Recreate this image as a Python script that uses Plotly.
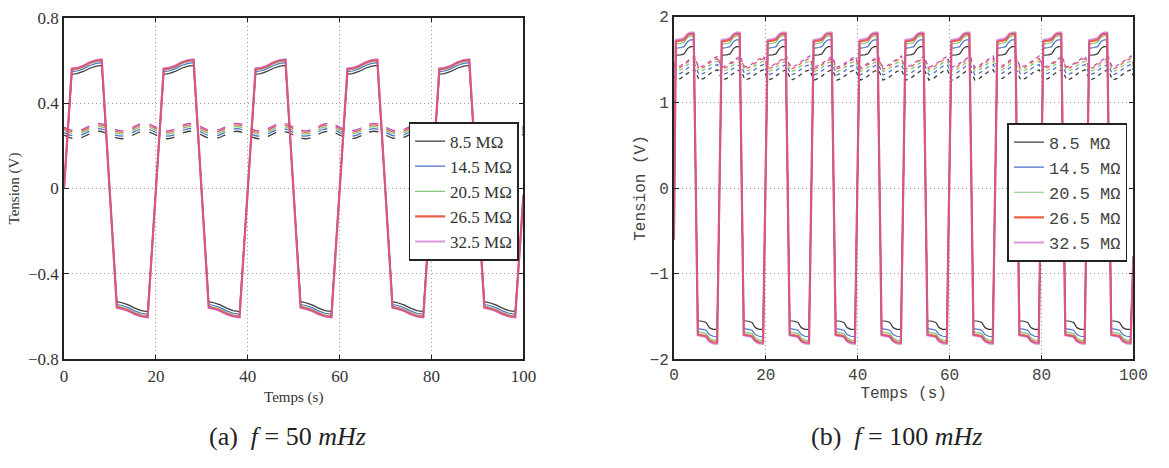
import plotly.graph_objects as go

# ---------------- data ----------------
series_names = ["8.5 MΩ", "14.5 MΩ", "20.5 MΩ", "26.5 MΩ", "32.5 MΩ"]
series_colors = ["#3a3a3a", "#4a72c8", "#80c878", "#ee6048", "#c050c0"]

# (a) f = 50 mHz : one period (20 s) of the solid curves
a_period = 20.0
a_n_periods = 5
a_t_high = [1.7, 2.8, 4.2, 5.6, 7.0, 8.2]
a_t_low = [11.5, 12.6, 14.0, 15.4, 16.8, 18.2]
a_high = [
    [0.535, 0.538, 0.548, 0.563, 0.573, 0.576],
    [0.547, 0.550, 0.560, 0.576, 0.586, 0.589],
    [0.554, 0.557, 0.567, 0.584, 0.594, 0.597],
    [0.559, 0.562, 0.572, 0.589, 0.599, 0.602],
    [0.562, 0.565, 0.575, 0.592, 0.602, 0.605],
]
a_low = [
    [-0.530, -0.535, -0.545, -0.560, -0.572, -0.576],
    [-0.543, -0.548, -0.558, -0.573, -0.584, -0.588],
    [-0.550, -0.556, -0.566, -0.581, -0.592, -0.596],
    [-0.556, -0.561, -0.571, -0.586, -0.597, -0.601],
    [-0.559, -0.564, -0.574, -0.589, -0.600, -0.604],
]
a_start = [0.0, 0.0, 0.0, 0.0, 0.0]
a_end = [-0.04, -0.04, -0.03, -0.03, -0.03]

# (a) dashed curves: one 10 s cycle
a_dash_period = 10.0
a_dash_t = [0.0, 1.25, 2.5, 3.75, 5.0, 6.25, 7.5, 8.75]
a_dash = [
    [0.250, 0.238, 0.233, 0.238, 0.250, 0.263, 0.268, 0.263],
    [0.262, 0.250, 0.245, 0.250, 0.262, 0.275, 0.280, 0.275],
    [0.272, 0.260, 0.255, 0.260, 0.272, 0.285, 0.290, 0.285],
    [0.280, 0.268, 0.263, 0.268, 0.280, 0.293, 0.298, 0.293],
    [0.287, 0.275, 0.270, 0.275, 0.287, 0.300, 0.305, 0.300],
]

# (b) f = 100 mHz : one period (10 s)
b_period = 10.0
b_n_periods = 10
b_t_high = [0.4, 1.5, 2.2, 3.0, 3.6, 4.3]
b_t_low = [5.2, 6.2, 7.0, 7.7, 8.5, 9.4]
b_high = [
    [1.55, 1.555, 1.565, 1.63, 1.65, 1.65],
    [1.63, 1.64, 1.65, 1.71, 1.73, 1.73],
    [1.68, 1.69, 1.70, 1.76, 1.775, 1.775],
    [1.71, 1.72, 1.73, 1.785, 1.80, 1.80],
    [1.73, 1.74, 1.75, 1.80, 1.815, 1.815],
]
b_low = [
    [-1.55, -1.555, -1.57, -1.63, -1.65, -1.65],
    [-1.64, -1.65, -1.66, -1.71, -1.73, -1.735],
    [-1.68, -1.69, -1.70, -1.75, -1.775, -1.78],
    [-1.71, -1.72, -1.73, -1.78, -1.80, -1.805],
    [-1.72, -1.73, -1.74, -1.79, -1.815, -1.82],
]
b_start = [-0.6, -0.6, -0.6, -0.6, -0.6]
b_end = [-0.8, -0.8, -0.8, -0.8, -0.8]

b_dash_period = 5.0
b_dash_t = [0.0, 0.5, 1.5, 2.5, 3.5, 4.5]
b_dash = [
    [1.31, 1.26, 1.28, 1.32, 1.36, 1.38],
    [1.37, 1.32, 1.34, 1.38, 1.42, 1.44],
    [1.41, 1.36, 1.38, 1.42, 1.46, 1.48],
    [1.44, 1.39, 1.41, 1.45, 1.49, 1.51],
    [1.46, 1.41, 1.43, 1.47, 1.51, 1.54],
]

a_xticks = [0, 20, 40, 60, 80, 100]
a_xticktext = ["0", "20", "40", "60", "80", "100"]
a_yticks = [-0.8, -0.4, 0, 0.4, 0.8]
a_yticktext = ["\u22120.8", "\u22120.4", "0", "0.4", "0.8"]
b_xticks = [0, 20, 40, 60, 80, 100]
b_xticktext = ["0", "20", "40", "60", "80", "100"]
b_yticks = [-2, -1, 0, 1, 2]
b_yticktext = ["\u22122", "\u22121", "0", "1", "2"]


def build_solid(t_high, t_low, high, low, period, n, start, end):
    xs, ys = [0.0], [start]
    for k in range(n):
        off = k * period
        xs += [t + off for t in t_high]
        ys += list(high)
        xs += [t + off for t in t_low]
        ys += list(low)
    xs.append(n * period)
    ys.append(end)
    return xs, ys


def build_cycle(t_cyc, vals, period, total):
    xs, ys = [], []
    k = 0
    while k * period < total - 1e-9:
        for t, v in zip(t_cyc, vals):
            xs.append(t + k * period)
            ys.append(v)
        k += 1
    xs.append(total)
    ys.append(vals[0])
    return xs, ys


serif = "Liberation Serif"
mono = "Liberation Mono"

fig = go.Figure()

widths = [1.2, 1.2, 1.2, 2.2, 2.0]
opac = [1, 1, 1, 1, 0.6]

for i in range(5):
    x, y = build_cycle(a_dash_t, a_dash[i], a_dash_period, 100)
    fig.add_trace(go.Scatter(x=x, y=y, mode="lines", xaxis="x", yaxis="y",
                             line=dict(color=series_colors[i], width=1.3, dash="dash", shape="spline", smoothing=0.6),
                             showlegend=False, hoverinfo="skip"))
    x, y = build_cycle(b_dash_t, b_dash[i], b_dash_period, 100)
    fig.add_trace(go.Scatter(x=x, y=y, mode="lines", xaxis="x2", yaxis="y2",
                             line=dict(color=series_colors[i], width=1.3, dash="4px,4px"),
                             showlegend=False, hoverinfo="skip"))

for i in range(5):
    x, y = build_solid(a_t_high, a_t_low, a_high[i], a_low[i], a_period, a_n_periods, a_start[i], a_end[i])
    fig.add_trace(go.Scatter(x=x, y=y, mode="lines", xaxis="x", yaxis="y", name=series_names[i],
                             line=dict(color=series_colors[i], width=widths[i]), opacity=opac[i],
                             legend="legend", hoverinfo="skip"))
for i in range(5):
    x, y = build_solid(b_t_high, b_t_low, b_high[i], b_low[i], b_period, b_n_periods, b_start[i], b_end[i])
    fig.add_trace(go.Scatter(x=x, y=y, mode="lines", xaxis="x2", yaxis="y2", name=series_names[i],
                             line=dict(color=series_colors[i], width=widths[i]), opacity=opac[i],
                             legend="legend2", hoverinfo="skip"))

axis_common = dict(showline=True, linecolor="#222", linewidth=1.6, mirror="ticks",
                   ticks="inside", ticklen=5, tickcolor="#222", tickwidth=1.2,
                   showgrid=True, gridcolor="#9a9a9a", griddash="1px,3px", gridwidth=1,
                   zeroline=False, tickmode="array")

fig.update_layout(
    width=1169, height=468, margin=dict(l=0, r=0, t=0, b=0),
    paper_bgcolor="white", plot_bgcolor="white",
    font=dict(family=serif, size=16, color="#333"),
    xaxis=dict(domain=[60 / 1169, 527 / 1169], range=[0, 100], tickvals=a_xticks, ticktext=a_xticktext,
               tickfont=dict(family=serif, size=17, color="#333"),
               title=dict(text="Temps (s)", font=dict(family=serif, size=15, color="#333"), standoff=7),
               anchor="y", **axis_common),
    yaxis=dict(domain=[1 - 366 / 468, 1 - 9 / 468], range=[-0.8, 0.8], tickvals=a_yticks, ticktext=a_yticktext,
               tickfont=dict(family=serif, size=17, color="#333"),
               title=dict(text="Tension (V)", font=dict(family=serif, size=15, color="#333"), standoff=5),
               anchor="x", **axis_common),
    xaxis2=dict(domain=[680 / 1169, 1147 / 1169], range=[0, 100], tickvals=b_xticks, ticktext=b_xticktext,
                tickfont=dict(family=mono, size=16, color="#444"),
                title=dict(text="Temps (s)", font=dict(family=mono, size=16, color="#444"), standoff=1),
                anchor="y2", **axis_common),
    yaxis2=dict(domain=[1 - 366 / 468, 1 - 8 / 468], range=[-2, 2], tickvals=b_yticks, ticktext=b_yticktext,
                tickfont=dict(family=mono, size=16, color="#444"),
                title=dict(text="Tension (V)", font=dict(family=mono, size=16, color="#444"), standoff=0),
                anchor="x2", **axis_common),
    legend=dict(x=522 / 1169, y=1 - 118 / 468, xanchor="right", yanchor="top",
                bgcolor="white", bordercolor="#222", borderwidth=1.6,
                font=dict(family=serif, size=17, color="#333"), tracegroupgap=0, itemwidth=30),
    legend2=dict(x=1141 / 1169, y=1 - 119 / 468, xanchor="right", yanchor="top",
                 bgcolor="white", bordercolor="#222", borderwidth=1.6,
                 font=dict(family=mono, size=17, color="#444"), tracegroupgap=0, itemwidth=30),
    annotations=[
        dict(text="(a)\u00a0\u00a0<i>f</i>\u00a0=\u00a050\u00a0<i>mHz</i>", x=287 / 1169, y=1 - 447 / 468,
             xref="paper", yref="paper", showarrow=False, xanchor="center", yanchor="middle",
             font=dict(family=serif, size=26, color="#222")),
        dict(text="(b)\u00a0\u00a0<i>f</i>\u00a0=\u00a0100\u00a0<i>mHz</i>", x=906 / 1169, y=1 - 447 / 468,
             xref="paper", yref="paper", showarrow=False, xanchor="center", yanchor="middle",
             font=dict(family=serif, size=26, color="#222")),
    ],
)

fig.write_html("out.html")
